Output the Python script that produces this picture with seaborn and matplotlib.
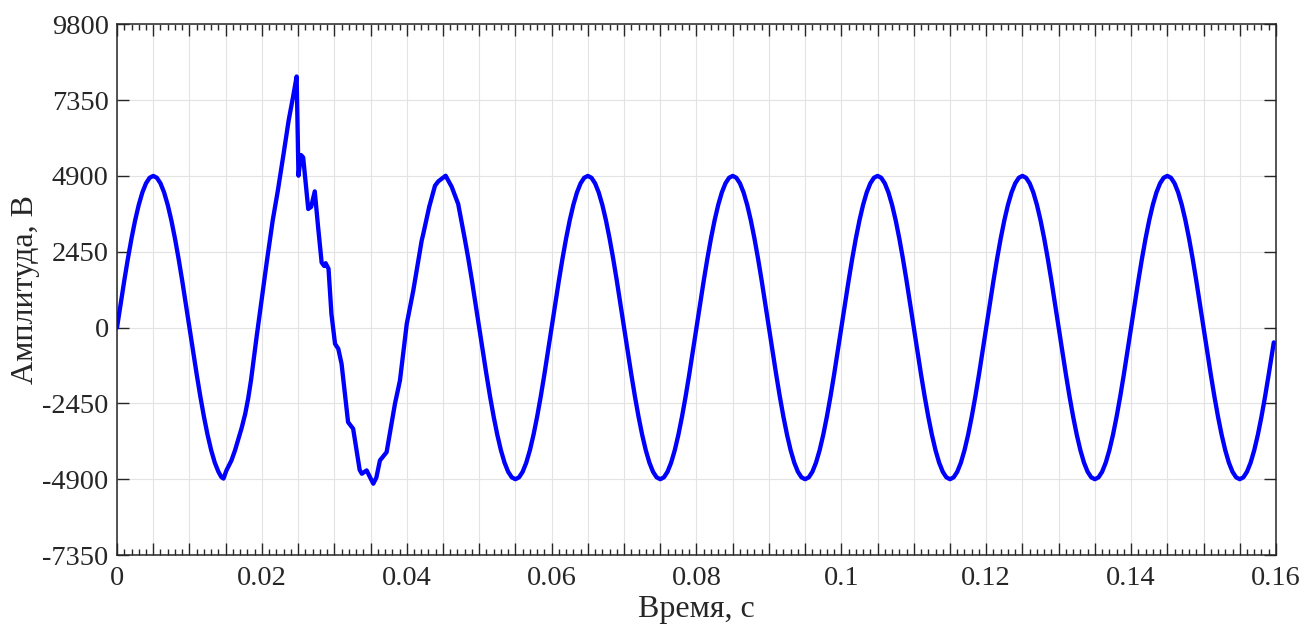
import numpy as np
import pandas as pd
import matplotlib
matplotlib.use("Agg")
import matplotlib.pyplot as plt
from matplotlib.ticker import MultipleLocator, FuncFormatter
import seaborn as sns

# --- data ---
# start of record, steady sine, 0.5 ms step (t = 0 ... 0.0135 s)
v_start = [0, 766, 1514, 2225, 2880, 3465, 3964, 4366, 4660, 4840,
           4900, 4840, 4660, 4366, 3964, 3465, 2880, 2225, 1514, 766,
           0, -766, -1514, -2225, -2880, -3465, -3964, -4366]
t_start = list(np.round(0.0005 * np.arange(len(v_start)), 4))

# transient (irregular sampling where the curve has kinks)
t_trans = [0.0140, 0.0144, 0.0147, 0.0151, 0.0158, 0.0163, 0.0167, 0.0172,
           0.0177, 0.0181, 0.0185, 0.0193,
           0.0200, 0.0207, 0.0215, 0.0222, 0.0230, 0.0237, 0.0243, 0.0248,
           0.02505, 0.0254, 0.0257, 0.0264, 0.0268, 0.0273, 0.02776, 0.02825,
           0.0286, 0.0288, 0.0292, 0.0296, 0.0301, 0.03055, 0.0310, 0.0319,
           0.0326, 0.0335, 0.0338, 0.03446, 0.03538, 0.0358, 0.0363, 0.03722,
           0.03837, 0.03906, 0.0400, 0.0409, 0.04113, 0.04206, 0.04228, 0.0431,
           0.0439, 0.04435, 0.04537, 0.0462, 0.0471, 0.0480, 0.0485, 0.0490,
           0.0495]
v_trans = [-4660, -4830, -4880, -4620, -4293, -3960, -3648, -3250,
           -2786, -2300, -1700, -250,
           950, 2163, 3470, 4420, 5620, 6700, 7450, 8112,
           4906, 5574, 5497, 3831, 3900, 4400, 3250, 2100,
           1990, 2080, 1900, 442, -526, -688, -1172, -3057,
           -3270, -4600, -4723, -4616, -5045, -4850, -4293, -4025,
           -2463, -1711, 119, 1194, 1517, 2808, 3025, 3900,
           4584, 4723, 4906, 4550, 3993, 2880, 2225, 1514,
           766]

# steady state again, 0.5 ms step starting at t = 0.050 s
v_steady = [
    0, -766, -1514, -2225, -2880, -3465, -3964, -4366, -4660, -4840,
    -4900, -4840, -4660, -4366, -3964, -3465, -2880, -2225, -1514, -766,
    0, 766, 1514, 2225, 2880, 3465, 3964, 4366, 4660, 4840,
    4900, 4840, 4660, 4366, 3964, 3465, 2880, 2225, 1514, 766,
    0, -766, -1514, -2225, -2880, -3465, -3964, -4366, -4660, -4840,
    -4900, -4840, -4660, -4366, -3964, -3465, -2880, -2225, -1514, -766,
    0, 766, 1514, 2225, 2880, 3465, 3964, 4366, 4660, 4840,
    4900, 4840, 4660, 4366, 3964, 3465, 2880, 2225, 1514, 766,
    0, -766, -1514, -2225, -2880, -3465, -3964, -4366, -4660, -4840,
    -4900, -4840, -4660, -4366, -3964, -3465, -2880, -2225, -1514, -766,
    0, 766, 1514, 2225, 2880, 3465, 3964, 4366, 4660, 4840,
    4900, 4840, 4660, 4366, 3964, 3465, 2880, 2225, 1514, 766,
    0, -766, -1514, -2225, -2880, -3465, -3964, -4366, -4660, -4840,
    -4900, -4840, -4660, -4366, -3964, -3465, -2880, -2225, -1514, -766,
    0, 766, 1514, 2225, 2880, 3465, 3964, 4366, 4660, 4840,
    4900, 4840, 4660, 4366, 3964, 3465, 2880, 2225, 1514, 766,
    0, -766, -1514, -2225, -2880, -3465, -3964, -4366, -4660, -4840,
    -4900, -4840, -4660, -4366, -3964, -3465, -2880, -2225, -1514, -766,
    0, 766, 1514, 2225, 2880, 3465, 3964, 4366, 4660, 4840,
    4900, 4840, 4660, 4366, 3964, 3465, 2880, 2225, 1514, 766,
    0, -766, -1514, -2225, -2880, -3465, -3964, -4366, -4660, -4840,
    -4900, -4840, -4660, -4366, -3964, -3465, -2880, -2225, -1514, -766,
]
t_steady = list(np.round(0.050 + 0.0005 * np.arange(len(v_steady)), 4))

t_end = [0.1597]
v_end = [-480]

y_ticks = [-7350, -4900, -2450, 0, 2450, 4900, 7350, 9800]

df = pd.DataFrame({
    "t": t_start + t_trans + t_steady + t_end,
    "v": v_start + v_trans + v_steady + v_end,
})

sns.set_style("ticks")
plt.rcParams["font.family"] = ["Liberation Serif", "DejaVu Serif"]
plt.rcParams["axes.unicode_minus"] = False

fig = plt.figure(figsize=(13.06, 6.30), dpi=100)
ax = fig.add_axes([0.0896, 0.119, 0.8874, 0.8425])

sns.lineplot(data=df, x="t", y="v", sort=False, estimator=None,
             color="#0000ff", linewidth=3.1, ax=ax, zorder=3,
             solid_joinstyle="round", solid_capstyle="round")

ax.set_xlim(0, 0.16)
ax.set_ylim(-7350, 9800)

ax.xaxis.set_major_locator(MultipleLocator(0.005))
ax.xaxis.set_minor_locator(MultipleLocator(0.001))


def x_fmt(val, pos):
    k = round(val / 0.005)
    if k % 4 != 0:
        return ""
    return "%g" % round(val, 3)


ax.xaxis.set_major_formatter(FuncFormatter(x_fmt))
ax.set_yticks(y_ticks)
ax.set_yticklabels([str(v) for v in y_ticks])

ax.grid(True, which="major", color="#e3e3e3", linewidth=0.8)
ax.set_axisbelow(True)

for sp in ax.spines.values():
    sp.set_visible(True)
    sp.set_color("#262626")
    sp.set_linewidth(1.1)

ax.tick_params(axis="both", which="major", direction="in", length=8.5,
               width=1.0, color="#262626", labelsize=20.5, labelcolor="#262626",
               top=True, right=True)
ax.tick_params(axis="x", which="minor", direction="in", length=4.5,
               width=1.0, color="#262626", top=True, bottom=True)
ax.tick_params(axis="x", which="major", pad=8)
ax.tick_params(axis="y", which="major", pad=6)

ax.set_xlabel("Время, с", fontsize=23, color="#262626", labelpad=3)
ax.set_ylabel("Амплитуда, В", fontsize=23, color="#262626", labelpad=2)

fig.savefig("out.png", dpi=100)
